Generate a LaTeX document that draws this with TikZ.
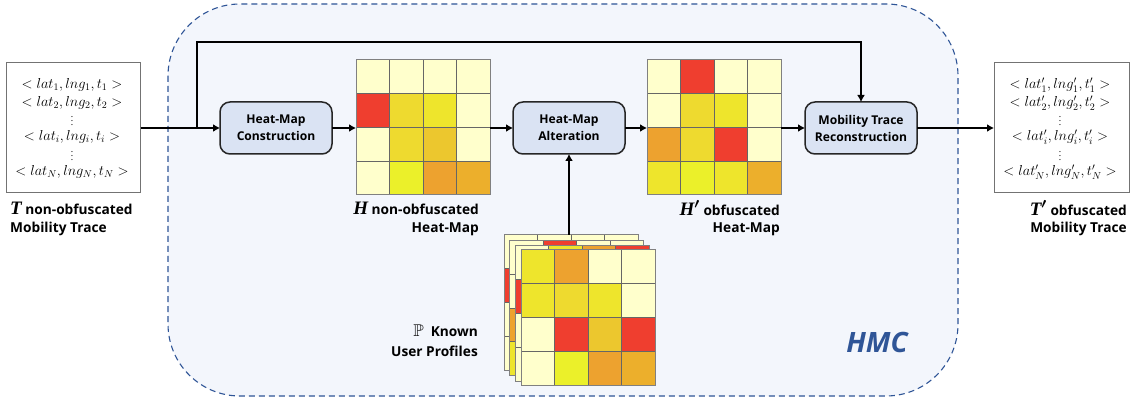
\documentclass[tikz,border=0pt]{standalone}
\usepackage{fontspec}
\usepackage{amssymb}
\setmainfont{Open Sans}
\newfontfamily\symfont{Liberation Serif}
\usetikzlibrary{arrows.meta}
\definecolor{cL}{HTML}{FFFFCC}
\definecolor{cR}{HTML}{EF3E2F}
\definecolor{cM}{HTML}{EEDA2F}
\definecolor{cY}{HTML}{EEE52C}
\definecolor{cG}{HTML}{EBF02A}
\definecolor{cO}{HTML}{EDA22F}
\definecolor{cK}{HTML}{ECAF2C}
\definecolor{cN}{HTML}{ECC72E}
\definecolor{hmcblue}{HTML}{2F5597}
\definecolor{hmcfill}{HTML}{F3F6FC}
\definecolor{stepfill}{HTML}{DAE3F3}
\newcommand{\capsym}{\symfont\itshape\bfseries\fontsize{19}{19}\selectfont}
\tikzset{
  hmcarea/.style={draw=hmcblue,fill=hmcfill,line width=1.1pt,dash pattern=on 6pt off 4pt,rounded corners=72pt},
  stepbox/.style={draw=black!85,fill=stepfill,line width=1.5pt,rounded corners=10pt,minimum width=112pt,minimum height=52pt,inner sep=0pt,outer sep=0pt,align=center,font=\fontsize{12.1}{17}\selectfont\bfseries},
  tracebox/.style={draw=black!55,fill=white,line width=1pt,minimum width=134pt,minimum height=130pt,inner sep=0pt,outer sep=0pt},
  mathline/.style={inner sep=0pt,font=\fontsize{14.6}{16}\selectfont},
  dotline/.style={inner sep=0pt,font=\fontsize{9}{10}\selectfont},
  caption/.style={inner sep=0pt,font=\fontsize{13.7}{21}\selectfont\bfseries},
  gridframe/.style={draw=black!50,line width=1pt,minimum width=134pt,minimum height=135pt,inner sep=0pt,outer sep=0pt},
  gridline/.style={draw=black!60,line width=.8pt},
  flow/.style={draw=black,line width=2.2pt,-{Latex[length=7pt,width=8pt]}},
  hmclabel/.style={inner sep=0pt,text=hmcblue,font=\fontsize{28}{30}\selectfont\bfseries\itshape}
}
% name, left, top, colours
\newcommand{\heatgrid}[4]{%
  \foreach \c [count=\k from 0] in {#4}{%
    \pgfmathtruncatemacro\cx{mod(\k,4)}%
    \pgfmathtruncatemacro\cy{int(\k/4)}%
    \fill[\c] ({#2+\cx*33.5},{#3+\cy*33.75}) rectangle ({#2+(\cx+1)*33.5},{#3+(\cy+1)*33.75});
  }%
  \foreach \n in {1,2,3}{%
    \draw[gridline] ({#2+\n*33.5},#3) -- ({#2+\n*33.5},{#3+135});
    \draw[gridline] (#2,{#3+\n*33.75}) -- ({#2+134},{#3+\n*33.75});
  }%
  \node[gridframe,anchor=north west] (#1) at (#2,#3) {};%
}
\newcommand{\tracelines}[6]{%
  \node[mathline] (#1a) at (#2,85) {$<#3>$};
  \node[mathline] (#1b) at (#2,103) {$<#4>$};
  \node[dotline] (#1c) at (#2,125.5) {$\smash{\vdots}$};
  \node[mathline] (#1d) at (#2,137) {$<#5>$};
  \node[dotline] (#1e) at (#2,160.5) {$\smash{\vdots}$};
  \node[mathline] (#1f) at (#2,172) {$<#6>$};
}
\begin{document}
\begin{tikzpicture}[x=1pt,y=-1pt]
\useasboundingbox (0,0) rectangle (1134,403);
\fill[white] (0,0) rectangle (1134,403);
\draw[hmcarea] (168,4) rectangle (958,396);

% trace boxes
\node[tracebox] (src) at (73.5,127.5) {};
\node[tracebox,minimum width=135pt] (dst) at (1061.5,127.5) {};
\tracelines{s}{72}{lat_1,lng_1,t_1}{lat_2,lng_2,t_2}{lat_i,lng_i,t_i}{lat_N,lng_N,t_N}
\tracelines{d}{1060}{lat'_1,lng'_1,t'_1}{lat'_2,lng'_2,t'_2}{lat'_i,lng'_i,t'_i}{lat'_N,lng'_N,t'_N}

% process boxes
\node[stepbox] (con) at (276,128) {Heat-Map\\Construction};
\node[stepbox] (alt) at (569,128) {Heat-Map\\Alteration};
\node[stepbox] (rec) at (861,128) {Mobility Trace\\Reconstruction};

% heat maps
\heatgrid{H}{356}{60}{cL,cL,cL,cL,cR,cM,cY,cL,cL,cM,cN,cL,cL,cG,cO,cK}
\heatgrid{Hp}{647}{60}{cL,cR,cL,cL,cL,cM,cY,cL,cO,cM,cR,cL,cY,cG,cY,cK}
\heatgrid{pa}{504}{235}{cL,cL,cL,cL,cR,cM,cY,cL,cL,cM,cN,cL,cL,cG,cO,cK}
\heatgrid{pb}{509.5}{240.5}{cL,cR,cL,cL,cL,cM,cY,cL,cO,cM,cR,cL,cY,cG,cY,cK}
\heatgrid{pc}{515}{246}{cL,cY,cO,cR,cR,cM,cY,cL,cL,cM,cN,cL,cL,cG,cO,cK}
\heatgrid{pd}{521}{250}{cY,cO,cL,cL,cY,cM,cY,cL,cL,cR,cN,cR,cL,cG,cO,cK}

% connectors
\coordinate (branch) at (197,128);
\coordinate (over) at (197,42);
\draw[flow] (src.east |- branch) -- (con.west |- branch);
\draw[flow] (branch) -- (over) -| (rec.north);
\draw[flow] (con.east) -- (H.west |- con.east);
\draw[flow] (H.east |- alt.west) -- (alt.west);
\draw[flow] (alt.east) -- (Hp.west |- alt.east);
\draw[flow] (Hp.east |- rec.west) -- (rec.west);
\draw[flow] (rec.east) -- (dst.west |- rec.east);
\draw[flow] (alt.south |- pa.north) -- (alt.south);

% captions
\node[caption,anchor=west] (c1) at (10,208) {{\capsym T} non-obfuscated};
\node[caption,anchor=west] (c2) at (10,229) {Mobility Trace};
\node[caption,anchor=east] (c3) at (479,208) {{\capsym H} non-obfuscated};
\node[caption,anchor=east] (c4) at (479,229) {Heat-Map};
\node[caption,anchor=east] (c5) at (780,208) {{\capsym H{\boldmath$'$}}\ obfuscated};
\node[caption,anchor=east] (c6) at (780,229) {Heat-Map};
\node[caption,anchor=east] (c7) at (1127,208) {{\capsym T{\boldmath$'$}} obfuscated};
\node[caption,anchor=east] (c8) at (1127,229) {Mobility Trace};
\node[caption,anchor=east] (c9) at (478,331) {{\fontsize{17}{17}\selectfont$\mathbb{P}$}\ \ Known};
\node[caption,anchor=east] (c10) at (478,351) {User Profiles};
\node[hmclabel] (hmc) at (877,342) {HMC};
\end{tikzpicture}
\end{document}
